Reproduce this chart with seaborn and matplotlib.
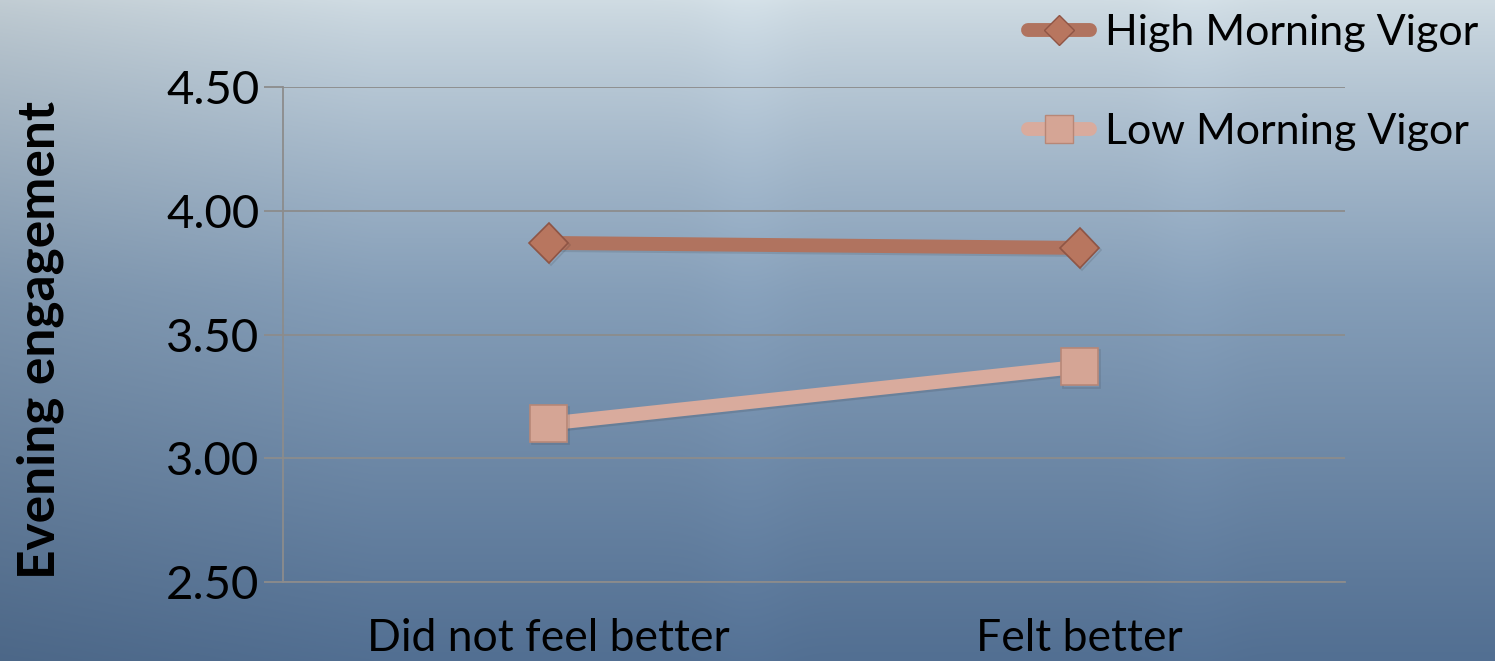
import numpy as np
import pandas as pd
import matplotlib
matplotlib.use("Agg")
import matplotlib.pyplot as plt
import matplotlib.patheffects as pe
from matplotlib.lines import Line2D
import seaborn as sns

# Data
conditions = ["Did not feel better", "Felt better"]
groups = ["High Morning Vigor", "Low Morning Vigor"]
high_vigor = [3.87, 3.85]
low_vigor = [3.14, 3.37]
y_ticks = [2.50, 3.00, 3.50, 4.00, 4.50]

df = pd.DataFrame({
    "condition": conditions * 2,
    "group": [groups[0]] * 2 + [groups[1]] * 2,
    "engagement": high_vigor + low_vigor,
})

sns.set_theme(style="white")
plt.rcParams["font.family"] = ["Lato", "DejaVu Sans"]

fig = plt.figure(figsize=(14.95, 6.61), dpi=100)

# Blue-grey gradient backdrop
bg = fig.add_axes([0, 0, 1, 1], zorder=-10)
h, w = 331, 748
yy = np.linspace(0, 1, h)[:, None]
xx = np.linspace(0, 1, w)[None, :]
top = np.array([208, 220, 227]) / 255
mid = np.array([133, 158, 184]) / 255
bot = np.array([82, 111, 146]) / 255
t = yy ** 0.85
col = np.where(t[..., None] < 0.5,
               top + (mid - top) * (t[..., None] / 0.5),
               mid + (bot - mid) * ((t[..., None] - 0.5) / 0.5))
col = np.broadcast_to(col, (h, w, 3)).copy()
# darker at the left edge, faint light shafts
shade = 1 - 0.07 * np.clip(1 - xx / 0.25, 0, 1)
rays = 1 + 0.025 * np.exp(-((xx - 0.5) / 0.03) ** 2) + 0.02 * np.exp(-((xx - 0.8) / 0.03) ** 2)
col = np.clip(col * (shade * rays)[..., None], 0, 1)
bg.imshow(col, aspect="auto", extent=[0, 1, 0, 1], interpolation="bicubic")
bg.set_axis_off()

ax = fig.add_axes([283 / 1495, 1 - 582 / 661, (1345 - 283) / 1495, (582 - 87) / 661])
ax.patch.set_alpha(0)

palette = {groups[0]: "#b0735f", groups[1]: "#d9ab9d"}
markers = {groups[0]: "D", groups[1]: "s"}
sns.lineplot(data=df, x="condition", y="engagement", hue="group", style="group",
             palette=palette, markers=markers, dashes=False, sort=False,
             linewidth=10, ax=ax, legend=False, zorder=3)

face = {groups[0]: "#b8765f", groups[1]: "#d5a595"}
edge = {groups[0]: "#8f5545", groups[1]: "#b78777"}
sizes = {groups[0]: 20, groups[1]: 27}
for line, g in zip(ax.get_lines(), groups):
    line.set_markersize(sizes[g])
    line.set_markerfacecolor(face[g])
    line.set_markeredgecolor(edge[g])
    line.set_markeredgewidth(1.2)
    line.set_solid_capstyle("butt")
    line.set_path_effects([pe.SimpleLineShadow(offset=(1.5, -1.5), alpha=0.12), pe.Normal()])

ax.set_xlim(-0.5, 1.5)
ax.set_ylim(2.5, 4.5)
ax.set_yticks(y_ticks)
ax.set_yticklabels([f"{v:.2f}" for v in y_ticks])
ax.set_xticks([0, 1])
ax.set_xticklabels(conditions)
ax.set_xticks([-0.5, 0.5, 1.5], minor=True)
ax.tick_params(axis="x", which="major", length=0, pad=26, labelsize=32, labelcolor="black")
ax.tick_params(axis="x", which="minor", length=14, width=1.3, color="#8c8c8c", direction="out")
ax.tick_params(axis="y", length=14, width=1.3, color="#8c8c8c", direction="out",
               pad=3, labelsize=34, labelcolor="black", left=True)
ax.yaxis.grid(True, color="#8c8c8c", linewidth=1.3)
ax.set_axisbelow(True)
for side in ["top", "right"]:
    ax.spines[side].set_visible(False)
for side in ["left", "bottom"]:
    ax.spines[side].set_color("#8c8c8c")
    ax.spines[side].set_linewidth(1.3)

ax.set_xlabel("")
ax.set_ylabel("Evening engagement", fontsize=37, fontweight="bold", color="black")
ax.yaxis.set_label_coords(-0.229, 0.489)
ax.yaxis.label.set_va("center")

# Legend
handles = [Line2D([], [], color=palette[g], linewidth=10, marker=markers[g],
                  markersize=sizes[g] * 0.75, markerfacecolor=face[g],
                  markeredgecolor=edge[g], solid_capstyle="round") for g in groups]
fig.legend(handles, groups, loc="upper right", bbox_to_anchor=(1.015, 1.037),
           frameon=False, fontsize=31, labelspacing=1.42, handlelength=1.45,
           handletextpad=0.35, labelcolor="black")

fig.savefig("out.png", dpi=100)
